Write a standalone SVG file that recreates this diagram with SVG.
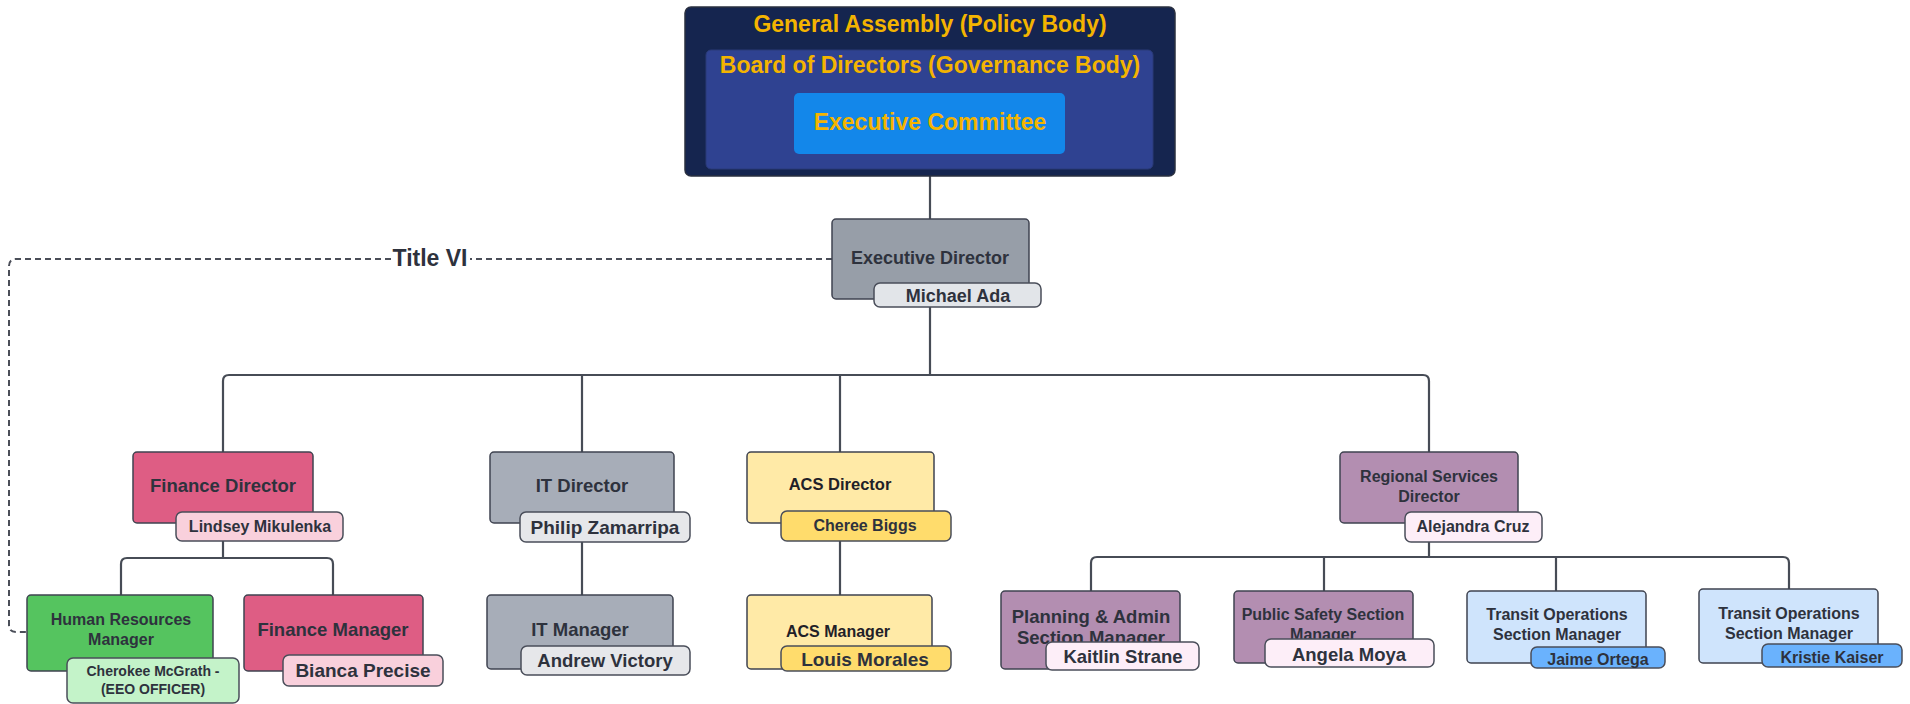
<svg xmlns="http://www.w3.org/2000/svg" width="1910" height="704" viewBox="0 0 1910 704">
<style>
text{font-family:"Liberation Sans",Arial,sans-serif;font-weight:bold;fill:#2e323d;text-anchor:middle}
.gold{fill:#f4b400}
.box{stroke:#3f4350;stroke-width:1.5}
.pill{stroke:#4a4e5a;stroke-width:1.5}
.conn{fill:none;stroke:#474c56;stroke-width:2.2}
.dash{fill:none;stroke:#4a4e58;stroke-width:2;stroke-dasharray:6 4}
.t23{font-size:23px}.t19{font-size:19px}.t185{font-size:18.5px}.t18{font-size:18px}.t165{font-size:16.5px}.t16{font-size:16px}.t14{font-size:14px}
</style>
<rect width="1910" height="704" fill="#ffffff"/>
<g id="connectors">
<path class="conn" d="M930,176 V219"/>
<path class="conn" d="M930,307 V375"/>
<path class="conn" d="M223,452 V381 Q223,375 229,375 H1423 Q1429,375 1429,381 V452"/>
<path class="conn" d="M582,375 V452"/>
<path class="conn" d="M840,375 V452"/>
<path class="conn" d="M223,541 V558"/>
<path class="conn" d="M121,595 V564 Q121,558 127,558 H327 Q333,558 333,564 V595"/>
<path class="conn" d="M582,542 V595"/>
<path class="conn" d="M840,541 V595"/>
<path class="conn" d="M1429,542 V557"/>
<path class="conn" d="M1091,591 V563 Q1091,557 1097,557 H1783 Q1789,557 1789,563 V589"/>
<path class="conn" d="M1324,557 V591"/>
<path class="conn" d="M1556,557 V591"/>
<path class="dash" d="M832,259 H470"/>
<path class="dash" d="M391,259 H16 Q9,259 9,266 V625 Q9,632 16,632 H27"/>
<text class="t23" x="430" y="266">Title VI</text>
</g>
<g id="general-assembly">
<rect x="685" y="7" width="490" height="169" rx="6" fill="#15254f" stroke="#2a3040" stroke-width="1.5"/>
<text class="t23 gold" x="930" y="32">General Assembly (Policy Body)</text>
</g>
<g id="board-of-directors">
<rect x="706" y="50" width="447" height="119" rx="5" fill="#2f4291" stroke="#2a3a78" stroke-width="1"/>
<text class="t23 gold" x="930" y="73">Board of Directors (Governance Body)</text>
</g>
<g id="executive-committee">
<rect x="794" y="93" width="271" height="61" rx="5" fill="#1387ea"/>
<text class="t23 gold" x="930" y="130">Executive Committee</text>
</g>
<g id="executive-director">
<rect class="box" x="832" y="219" width="197" height="80" rx="4" fill="#979ea8"/>
<text class="t18" x="930" y="264">Executive Director</text>
<rect class="pill" x="874" y="283" width="167" height="24" rx="6" fill="#e2e5e9"/>
<text class="t18" x="958" y="302">Michael Ada</text>
</g>
<g id="finance-director">
<rect class="box" x="133" y="452" width="180" height="71" rx="4" fill="#de5d84"/>
<text class="t185" x="223" y="492">Finance Director</text>
<rect class="pill" x="176" y="512" width="167" height="29" rx="6" fill="#f9d0dc"/>
<text class="t16" x="260" y="532">Lindsey Mikulenka</text>
</g>
<g id="hr-manager">
<rect class="box" x="27" y="595" width="186" height="76" rx="4" fill="#55c45f"/>
<text class="t16" x="121" y="625">Human Resources</text>
<text class="t16" x="121" y="645">Manager</text>
<rect class="pill" x="67" y="658" width="172" height="45" rx="6" fill="#c4f3c9"/>
<text class="t14" x="153" y="676">Cherokee McGrath -</text>
<text class="t14" x="153" y="694">(EEO OFFICER)</text>
</g>
<g id="finance-manager">
<rect class="box" x="244" y="595" width="179" height="76" rx="4" fill="#de5d84"/>
<text class="t185" x="333" y="636">Finance Manager</text>
<rect class="pill" x="283" y="655" width="160" height="31" rx="6" fill="#f9d0dc"/>
<text class="t19" x="363" y="677">Bianca Precise</text>
</g>
<g id="it-director">
<rect class="box" x="490" y="452" width="184" height="71" rx="4" fill="#a7adb8"/>
<text class="t185" x="582" y="492">IT Director</text>
<rect class="pill" x="520" y="512" width="170" height="30" rx="6" fill="#e6e7ea"/>
<text class="t19" x="605" y="534">Philip Zamarripa</text>
</g>
<g id="it-manager">
<rect class="box" x="487" y="595" width="186" height="74" rx="4" fill="#a7adb8"/>
<text class="t185" x="580" y="636">IT Manager</text>
<rect class="pill" x="521" y="646" width="169" height="29" rx="6" fill="#e6e7ea"/>
<text class="t185" x="605" y="667">Andrew Victory</text>
</g>
<g id="acs-director">
<rect class="box" x="747" y="452" width="187" height="71" rx="4" fill="#ffeaa7"/>
<text class="t165" x="840" y="490" style="fill:#1f2128">ACS Director</text>
<rect class="pill" x="781" y="511" width="170" height="30" rx="6" fill="#ffdc6c"/>
<text class="t16" x="865" y="531">Cheree Biggs</text>
</g>
<g id="acs-manager">
<rect class="box" x="747" y="595" width="185" height="74" rx="4" fill="#ffeaa7"/>
<text class="t16" x="838" y="637" style="fill:#1f2128">ACS Manager</text>
<rect class="pill" x="781" y="646" width="170" height="25" rx="6" fill="#ffdc6c"/>
<text class="t19" x="865" y="666">Louis Morales</text>
</g>
<g id="regional-services-director">
<rect class="box" x="1340" y="452" width="178" height="71" rx="4" fill="#b38eb1"/>
<text class="t16" x="1429" y="482">Regional Services</text>
<text class="t16" x="1429" y="502">Director</text>
<rect class="pill" x="1405" y="512" width="137" height="30" rx="6" fill="#fdeef8"/>
<text class="t16" x="1473" y="532">Alejandra Cruz</text>
</g>
<g id="planning-admin">
<rect class="box" x="1001" y="591" width="179" height="78" rx="4" fill="#b38eb1"/>
<text class="t185" x="1091" y="623">Planning &amp; Admin</text>
<text class="t185" x="1091" y="644">Section Manager</text>
<rect class="pill" x="1046" y="642" width="153" height="28" rx="6" fill="#fdeef8"/>
<text class="t185" x="1123" y="663">Kaitlin Strane</text>
</g>
<g id="public-safety">
<rect class="box" x="1234" y="591" width="179" height="72" rx="4" fill="#b38eb1"/>
<text class="t16" x="1323" y="620">Public Safety Section</text>
<text class="t16" x="1323" y="640">Manager</text>
<rect class="pill" x="1265" y="639" width="169" height="28" rx="6" fill="#fdeef8"/>
<text class="t185" x="1349" y="661">Angela Moya</text>
</g>
<g id="transit-operations-1">
<rect class="box" x="1467" y="591" width="179" height="72" rx="4" fill="#cfe4fc"/>
<text class="t16" x="1557" y="620">Transit Operations</text>
<text class="t16" x="1557" y="640">Section Manager</text>
<rect class="pill" x="1531" y="647" width="134" height="21" rx="6" fill="#6ab2fd"/>
<text class="t16" x="1598" y="665">Jaime Ortega</text>
</g>
<g id="transit-operations-2">
<rect class="box" x="1699" y="589" width="179" height="74" rx="4" fill="#cfe4fc"/>
<text class="t16" x="1789" y="619">Transit Operations</text>
<text class="t16" x="1789" y="639">Section Manager</text>
<rect class="pill" x="1762" y="644" width="140" height="23" rx="6" fill="#6ab2fd"/>
<text class="t16" x="1832" y="663">Kristie Kaiser</text>
</g>
</svg>
